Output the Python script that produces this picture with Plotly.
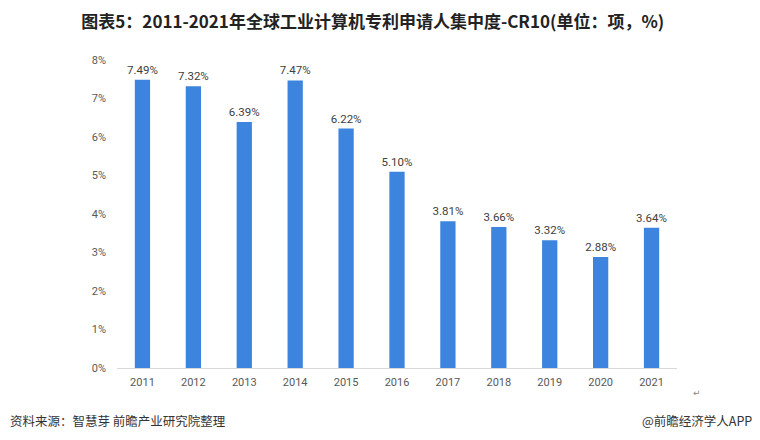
import plotly.graph_objects as go

# data
years = ['2011', '2012', '2013', '2014', '2015', '2016', '2017', '2018', '2019', '2020', '2021']
cr10 = [7.49, 7.32, 6.39, 7.47, 6.22, 5.10, 3.81, 3.66, 3.32, 2.88, 3.64]
y_ticks = [0, 1, 2, 3, 4, 5, 6, 7, 8]
y_tick_labels = ['0%', '1%', '2%', '3%', '4%', '5%', '6%', '7%', '8%']

title = '图表5：2011-2021年全球工业计算机专利申请人集中度-CR10(单位：项，%)'
source = '资料来源：智慧芽 前瞻产业研究院整理'
brand = '@前瞻经济学人APP'

font_cn = 'Noto Sans CJK SC'
font_num = 'Roboto, DejaVu Sans'

bars = go.Bar(
    x=years, y=cr10,
    width=0.3,
    marker=dict(color='#3d84df', line=dict(width=0)),
    text=['%.2f%%' % v for v in cr10],
    textposition='outside',
    constraintext='none',
    textfont=dict(family=font_num, size=11.5, color='#404040'),
    cliponaxis=False,
)

# page has an 8px body margin, so margins are shifted to compensate
layout = go.Layout(
    width=760, height=440,
    margin=dict(l=109, r=91, t=52, b=80),
    paper_bgcolor='white', plot_bgcolor='white',
    showlegend=False,
    font=dict(family=font_cn),
    title=dict(text='<b>' + title + '</b>', x=0.48, xanchor='center', y=0.968, yanchor='middle',
               font=dict(family=font_cn, size=17, color='#222222')),
    xaxis=dict(type='category', range=[-0.5, 10.5], showgrid=False, showline=True,
               linecolor='#d9d9d9', linewidth=1, ticks='', ticklabelstandoff=4,
               tickfont=dict(family=font_num, size=11, color='#595959')),
    yaxis=dict(range=[0, 8], tickvals=y_ticks, ticktext=y_tick_labels, showgrid=False,
               zeroline=False, showline=False, ticks='', ticklabelstandoff=10,
               tickfont=dict(family=font_num, size=11, color='#595959')),
    annotations=[
        dict(text=source, xref='paper', yref='paper', x=-0.195, y=-0.169, xanchor='left', yanchor='middle',
             showarrow=False, font=dict(family=font_cn, size=12.5, color='#333333')),
        dict(text=brand, xref='paper', yref='paper', x=1.138, y=-0.169, xanchor='right', yanchor='middle',
             showarrow=False, font=dict(family=font_cn, size=12.5, color='#333333')),
        dict(text='↵', xref='paper', yref='paper', x=1.036, y=-0.081, xanchor='center', yanchor='middle',
             showarrow=False, font=dict(family='DejaVu Sans', size=9, color='#888888')),
    ],
)

fig = go.Figure(data=[bars], layout=layout)
fig.write_html('out.html')
